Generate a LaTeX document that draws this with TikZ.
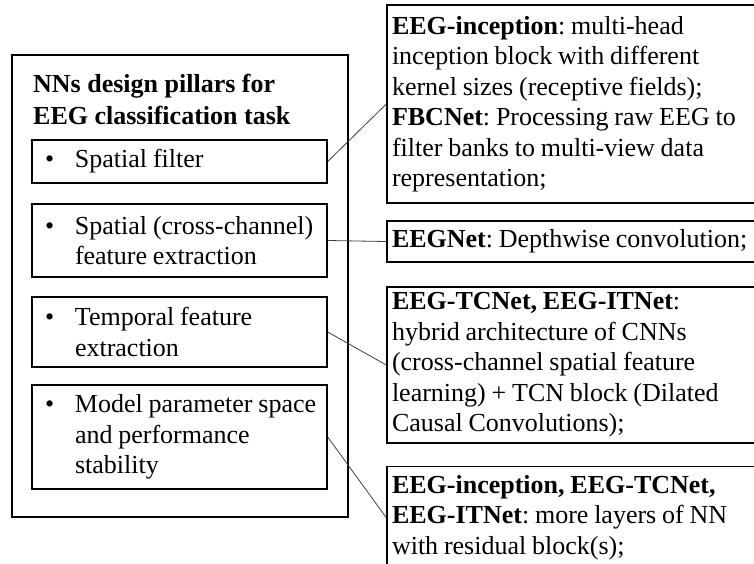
\documentclass[tikz,border=0pt]{standalone}
\usepackage{fontspec}
\setmainfont{Liberation Serif}
\frenchspacing
\newcommand{\tightspacing}{\spaceskip=5.8pt plus 1pt minus 1pt\relax}
\begin{document}
\begin{tikzpicture}[x=1pt,y=-1pt,
  txt/.style={font=\fontsize{26}{30.5}\selectfont},
  outerbox/.style={draw=black, line width=1.4pt, minimum width=336pt, minimum height=462pt, inner sep=0pt},
  pillar/.style={draw=black, line width=1.4pt, txt, text width=295pt, inner xsep=0pt, inner ysep=0pt, minimum height=#1, align=left},
  info/.style={draw=black, line width=1.4pt, txt, text width=410pt, inner xsep=5pt, inner ysep=0pt, minimum height=#1, align=left},
  link/.style={draw=black!75, line width=0.8pt}]
\clip (0,0) rectangle (754,564);
\fill[white] (0,0) rectangle (754,564);
% outer box
\node[outerbox] (outer) at (180,286) {};
\node[font=\fontsize{26}{32}\selectfont\bfseries, anchor=north west, inner sep=0pt, align=left] (title) at (33,74)
  {NNs design pillars for\\EEG classification task};
% pillars
\node[pillar=43pt] (b1) at (179.5,161.5) {\tightspacing\hspace*{13pt}\makebox[30pt][l]{\textbullet}Spatial filter};
\node[pillar=73pt] (b2) at (179.5,240.5) {\tightspacing\hspace*{13pt}\makebox[30pt][l]{\textbullet}Spatial (cross-channel)\\\hspace*{43pt}feature extraction};
\node[pillar=70pt] (b3) at (179.5,332) {\tightspacing\hspace*{13pt}\makebox[30pt][l]{\textbullet}Temporal feature\\\hspace*{43pt}extraction};
\node[pillar=104pt] (b4) at (179.5,437) {\tightspacing\hspace*{13pt}\makebox[30pt][l]{\textbullet}Model parameter space\\\hspace*{43pt}and performance\\\hspace*{43pt}stability};
% info boxes
\node[info=198pt] (r1) at (597,104) {\tightspacing\textbf{EEG-inception}: multi-head\\inception block with different\\kernel sizes (receptive fields);\\\textbf{FBCNet}: Processing raw EEG to\\filter banks to multi-view data\\representation;};
\node[info=41pt] (r2) at (597,241.5) {\tightspacing\textbf{EEGNet}: Depthwise convolution;};
\node[info=156pt] (r3) at (597,365) {\tightspacing\textbf{EEG-TCNet, EEG-ITNet}:\\hybrid architecture of CNNs\\(cross-channel spatial feature\\learning) + TCN block (Dilated\\Causal Convolutions);};
\node[info=102pt, anchor=north] (r4) at (597,466) {\tightspacing\textbf{EEG-inception, EEG-TCNet,}\\\textbf{EEG-ITNet}: more layers of NN\\with residual block(s);};
% connectors
\draw[link] (b1.east) -- (r1.west);
\draw[link] (b2.east) -- (r2.west);
\draw[link] (b3.east) -- (r3.west);
\draw[link] (b4.east) -- (r4.west);
\end{tikzpicture}
\end{document}
